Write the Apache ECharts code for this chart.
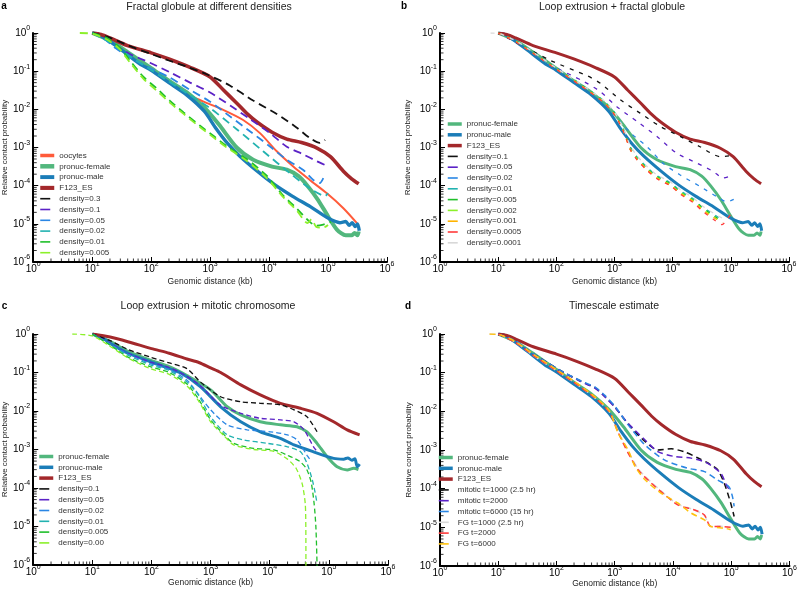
<!DOCTYPE html>
<html><head><meta charset="utf-8">
<script src="https://cdn.jsdelivr.net/npm/echarts/dist/echarts.min.js"></script>
<style>html,body{margin:0;padding:0;background:#fff}#c{width:800px;height:589px}</style>
</head><body><div id="c"></div>
<script>
// ---- Data: pairs of [log10(kb), log10(P)] ----
// Experimental curves (panels a, b, d)
const F123_ES = [[1.0,0],[1.15,-0.04],[1.3,-0.13],[1.6,-0.33],[2.0,-0.52],[2.3,-0.68],[2.66,-0.9],[3.0,-1.15],[3.23,-1.5],[3.44,-1.82],[3.63,-2.12],[3.8,-2.34],[4.05,-2.6],[4.3,-2.78],[4.55,-2.87],[4.82,-3.02],[5.04,-3.24],[5.26,-3.62],[5.4,-3.82],[5.52,-3.95]];
const pronucMale = [[1.0,0],[1.1,-0.03],[1.3,-0.22],[1.5,-0.45],[1.8,-0.8],[2.0,-0.98],[2.3,-1.3],[2.6,-1.62],[2.9,-2.05],[3.1,-2.5],[3.3,-2.9],[3.5,-3.22],[3.8,-3.62],[4.1,-3.98],[4.4,-4.28],[4.7,-4.55],[5.0,-4.85],[5.2,-4.97],[5.3,-4.94],[5.36,-5.04],[5.41,-4.97],[5.46,-5.07],[5.5,-5.0],[5.53,-5.18]];
const pronucFemale = [[1.0,0],[1.3,-0.2],[1.6,-0.5],[2.0,-0.92],[2.3,-1.25],[2.6,-1.55],[2.9,-1.95],[3.15,-2.4],[3.45,-3.0],[3.73,-3.32],[4.05,-3.5],[4.3,-3.58],[4.5,-3.75],[4.65,-4.0],[4.82,-4.35],[5.0,-4.8],[5.15,-5.15],[5.3,-5.3],[5.4,-5.3],[5.45,-5.24],[5.5,-5.3],[5.52,-5.2]];
const oocytes = [[1.0,0],[1.3,-0.2],[1.6,-0.5],[2.0,-0.93],[2.3,-1.27],[2.49,-1.48],[2.7,-1.67],[2.89,-1.8],[3.23,-2.02],[3.56,-2.28],[3.85,-2.63],[4.13,-3.1],[4.41,-3.5],[4.69,-3.85],[4.98,-4.2],[5.26,-4.59],[5.49,-4.98]];
// Panel a: fractal globule densities
const a_d03 = [[1.0,0],[1.3,-0.12],[1.6,-0.32],[2.0,-0.55],[2.3,-0.72],[2.6,-0.88],[2.94,-1.08],[3.34,-1.38],[3.73,-1.77],[4.13,-2.12],[4.47,-2.48],[4.69,-2.75],[4.86,-2.88],[4.95,-2.8]];
const a_d01 = [[1.0,0],[1.2,-0.12],[1.4,-0.32],[1.64,-0.55],[1.98,-0.78],[2.32,-1.03],[2.66,-1.3],[3.0,-1.56],[3.34,-1.9],[3.68,-2.26],[4.02,-2.63],[4.3,-2.98],[4.58,-3.18],[4.81,-3.36],[4.98,-3.48]];
const a_d005 = [[1.0,0],[1.2,-0.15],[1.4,-0.4],[1.64,-0.64],[1.98,-0.92],[2.32,-1.17],[2.66,-1.49],[3.0,-1.8],[3.34,-2.19],[3.68,-2.58],[4.02,-2.98],[4.3,-3.32],[4.58,-3.59],[4.75,-3.85],[4.86,-3.93],[4.92,-3.8]];
const a_d002 = [[1.0,0],[1.3,-0.25],[1.6,-0.57],[2.0,-0.97],[2.3,-1.27],[2.6,-1.57],[3.0,-1.97],[3.45,-2.52],[3.9,-3.1],[4.36,-3.68],[4.69,-4.07],[4.95,-4.27],[5.0,-4.2]];
const a_d001 = [[1.0,0],[1.25,-0.13],[1.47,-0.39],[1.64,-0.72],[1.87,-1.15],[2.1,-1.46],[2.32,-1.78],[2.55,-2.08],[2.83,-2.43],[3.06,-2.7],[3.28,-2.96],[3.62,-3.3],[3.96,-3.74],[4.24,-4.26],[4.47,-4.6],[4.69,-4.95],[4.8,-5.05],[4.92,-5.02],[5.05,-4.95]];
const a_d0005 = [[0.79,0],[1.0,-0.02],[1.25,-0.17],[1.47,-0.43],[1.64,-0.77],[1.87,-1.2],[2.1,-1.52],[2.32,-1.83],[2.55,-2.12],[2.83,-2.47],[3.06,-2.74],[3.28,-3.0],[3.62,-3.35],[3.96,-3.8],[4.24,-4.3],[4.47,-4.65],[4.65,-4.98],[4.72,-4.88],[4.8,-5.08],[4.92,-5.1],[5.0,-5.03]];
// Panel b: loop extrusion + fractal globule
const b_d01 = [[1.0,0],[1.33,-0.26],[1.9,-0.72],[2.53,-1.12],[2.76,-1.32],[3.1,-1.75],[3.44,-2.1],[3.79,-2.45],[4.13,-2.71],[4.47,-2.98],[4.82,-3.24],[5.05,-3.2]];
const b_d005 = [[1.0,0],[1.5,-0.4],[1.9,-0.83],[2.47,-1.27],[2.76,-1.54],[3.04,-1.93],[3.39,-2.32],[3.73,-2.71],[4.07,-3.15],[4.42,-3.41],[4.7,-3.63],[4.87,-3.8],[5.0,-3.75]];
const b_d002 = [[1.0,0],[1.3,-0.22],[1.6,-0.52],[2.0,-0.95],[2.4,-1.36],[2.81,-1.8],[3.1,-2.33],[3.3,-2.65],[3.56,-2.98],[3.84,-3.42],[4.13,-3.72],[4.47,-4.02],[4.76,-4.29],[4.93,-4.42],[5.05,-4.36]];
const b_d001 = [[1.0,0],[1.3,-0.2],[1.6,-0.5],[2.0,-0.92],[2.4,-1.32],[2.8,-1.76],[3.0,-2.08],[3.15,-2.5],[3.27,-2.98],[3.39,-3.25],[3.56,-3.52],[3.73,-3.74],[3.96,-3.92],[4.13,-4.13],[4.36,-4.35],[4.5,-4.55],[4.7,-4.74],[4.85,-4.9]];
const b_d0005 = [[1.0,0],[1.3,-0.21],[1.6,-0.51],[2.0,-0.93],[2.4,-1.33],[2.8,-1.77],[3.0,-2.1],[3.15,-2.52],[3.27,-3.0],[3.39,-3.28],[3.56,-3.55],[3.73,-3.77],[3.96,-3.95],[4.13,-4.16],[4.36,-4.38],[4.5,-4.57],[4.7,-4.78],[4.83,-4.92]];
const b_d0002 = [[1.0,0],[1.3,-0.22],[1.6,-0.52],[2.0,-0.94],[2.4,-1.34],[2.8,-1.78],[3.0,-2.12],[3.15,-2.55],[3.27,-3.03],[3.39,-3.3],[3.56,-3.57],[3.73,-3.79],[3.96,-3.97],[4.13,-4.18],[4.36,-4.4],[4.5,-4.6],[4.7,-4.82],[4.84,-4.95]];
const b_d0001 = [[1.0,0],[1.3,-0.22],[1.6,-0.53],[2.0,-0.94],[2.4,-1.35],[2.8,-1.8],[3.0,-2.13],[3.15,-2.55],[3.27,-3.05],[3.39,-3.32],[3.56,-3.58],[3.73,-3.8],[3.96,-3.99],[4.13,-4.2],[4.36,-4.42],[4.5,-4.62],[4.7,-4.83],[4.86,-4.97]];
const b_d00005 = [[1.0,0],[1.3,-0.23],[1.6,-0.53],[2.0,-0.95],[2.4,-1.36],[2.8,-1.8],[3.0,-2.14],[3.15,-2.56],[3.27,-3.05],[3.39,-3.33],[3.56,-3.6],[3.73,-3.82],[3.96,-4.0],[4.13,-4.22],[4.36,-4.45],[4.5,-4.65],[4.7,-4.88],[4.85,-5.02],[4.95,-4.85],[5.0,-4.75]];
const b_d00001 = [[0.87,0],[1.0,-0.01],[1.3,-0.2],[1.6,-0.5],[2.0,-0.92],[2.4,-1.32],[2.8,-1.75],[3.0,-2.08],[3.15,-2.48],[3.27,-2.95],[3.39,-3.22],[3.56,-3.5],[3.73,-3.72],[3.96,-3.9],[4.13,-4.1],[4.36,-4.33],[4.5,-4.52],[4.7,-4.72],[4.85,-4.85]];
// Panel c: loop extrusion + mitotic chromosome (different normalisation)
const c_F123 = [[1.0,0],[1.3,-0.08],[1.6,-0.2],[2.0,-0.38],[2.3,-0.5],[2.6,-0.65],[2.8,-0.74],[3.0,-0.88],[3.17,-1.0],[3.51,-1.32],[3.84,-1.58],[4.18,-1.8],[4.52,-1.93],[4.8,-2.06],[5.08,-2.28],[5.31,-2.49],[5.52,-2.62]];
const c_male = [[1.0,0],[1.15,-0.08],[1.31,-0.25],[1.6,-0.5],[1.98,-0.72],[2.16,-0.82],[2.5,-1.02],[2.83,-1.37],[3.17,-1.89],[3.51,-2.28],[3.84,-2.54],[4.18,-2.71],[4.41,-2.88],[4.74,-3.06],[5.08,-3.23],[5.25,-3.25],[5.32,-3.22],[5.39,-3.28],[5.44,-3.24],[5.48,-3.45],[5.52,-3.38]];
const c_female = [[1.0,0],[1.31,-0.2],[1.6,-0.45],[1.98,-0.68],[2.3,-0.85],[2.6,-1.08],[3.0,-1.45],[3.28,-1.89],[3.51,-2.1],[3.84,-2.28],[4.18,-2.36],[4.46,-2.41],[4.63,-2.54],[4.8,-2.84],[4.97,-3.19],[5.14,-3.45],[5.31,-3.53],[5.42,-3.49],[5.5,-3.52]];
const c_d01 = [[1.0,0],[1.31,-0.18],[1.6,-0.4],[1.98,-0.6],[2.3,-0.75],[2.6,-0.9],[2.83,-1.25],[3.17,-1.63],[3.51,-1.76],[3.84,-1.8],[4.18,-1.84],[4.41,-1.97],[4.63,-2.15],[4.8,-2.54]];
const c_d005 = [[1.0,0],[1.31,-0.25],[1.6,-0.5],[1.98,-0.73],[2.3,-0.87],[2.6,-1.1],[2.83,-1.35],[3.17,-1.85],[3.51,-2.06],[3.84,-2.19],[4.18,-2.23],[4.41,-2.28],[4.58,-2.49],[4.74,-2.93],[4.8,-3.05]];
const c_d002 = [[1.0,0],[1.31,-0.27],[1.6,-0.52],[1.98,-0.77],[2.3,-0.92],[2.6,-1.2],[2.72,-1.42],[3.0,-1.97],[3.28,-2.36],[3.62,-2.49],[4.01,-2.54],[4.3,-2.62],[4.46,-2.75],[4.63,-3.15],[4.7,-3.3]];
const c_d001 = [[1.0,0],[1.31,-0.28],[1.6,-0.55],[1.98,-0.8],[2.3,-0.95],[2.6,-1.25],[2.8,-1.6],[3.0,-2.15],[3.28,-2.62],[3.56,-2.75],[3.96,-2.84],[4.3,-2.93],[4.52,-3.06],[4.63,-3.36],[4.72,-3.79],[4.77,-4.14],[4.8,-4.4]];
const c_d0005 = [[1.0,0],[1.31,-0.3],[1.6,-0.6],[1.98,-0.85],[2.3,-1.0],[2.6,-1.3],[2.8,-1.7],[3.0,-2.23],[3.23,-2.62],[3.39,-2.84],[3.73,-2.97],[4.07,-3.01],[4.3,-3.15],[4.5,-3.3],[4.62,-3.5],[4.7,-3.85],[4.75,-4.4],[4.78,-5.0],[4.8,-6.0],[4.81,-7.0]];
const c_d000 = [[0.66,0],[1.0,-0.05],[1.31,-0.33],[1.6,-0.62],[1.98,-0.9],[2.3,-1.05],[2.6,-1.35],[2.8,-1.75],[3.0,-2.28],[3.23,-2.65],[3.39,-2.88],[3.73,-3.0],[4.07,-3.05],[4.3,-3.25],[4.45,-3.5],[4.55,-3.9],[4.6,-4.4],[4.61,-5.0],[4.612,-6.0],[4.614,-7.0]];
// Panel d: timescale estimate
const d_mit1000 = [[1.0,0],[1.3,-0.2],[1.59,-0.5],[2.05,-0.93],[2.39,-1.2],[2.67,-1.4],[2.84,-1.63],[3.01,-1.9],[3.23,-2.33],[3.52,-2.78],[3.74,-3.0],[3.97,-2.97],[4.2,-3.05],[4.42,-3.2],[4.59,-3.33],[4.76,-3.5],[4.88,-3.86],[4.99,-4.37],[5.05,-4.72]];
const d_mit2000 = [[1.0,0],[1.3,-0.2],[1.59,-0.5],[2.05,-0.94],[2.39,-1.21],[2.67,-1.41],[2.84,-1.64],[3.01,-1.91],[3.23,-2.31],[3.52,-2.74],[3.74,-3.04],[4.03,-3.17],[4.31,-3.21],[4.59,-3.34],[4.82,-3.6],[4.93,-3.95],[4.97,-4.02]];
const d_mit6000 = [[1.0,0],[1.3,-0.18],[1.59,-0.5],[2.05,-0.93],[2.39,-1.19],[2.67,-1.38],[2.84,-1.6],[3.01,-1.88],[3.23,-2.35],[3.52,-2.87],[3.86,-3.26],[4.25,-3.47],[4.54,-3.56],[4.76,-3.77],[4.96,-3.95],[5.02,-4.2],[5.05,-4.46]];
const d_fg1000 = [[0.85,0],[1.0,-0.01],[1.3,-0.22],[1.6,-0.55],[2.0,-0.95],[2.3,-1.25],[2.6,-1.58],[2.9,-2.0],[3.06,-2.52],[3.23,-3.03],[3.4,-3.48],[3.63,-3.84],[3.86,-4.14],[4.08,-4.4],[4.37,-4.55],[4.54,-4.7],[4.65,-4.98],[4.82,-4.97],[4.99,-5.02]];
const d_fg2000 = [[1.0,0],[1.3,-0.22],[1.6,-0.55],[2.0,-0.95],[2.3,-1.25],[2.6,-1.58],[2.9,-2.0],[3.06,-2.55],[3.23,-3.08],[3.4,-3.51],[3.63,-3.86],[3.86,-4.16],[4.08,-4.42],[4.37,-4.55],[4.54,-4.68],[4.65,-4.98],[4.82,-4.98],[4.99,-5.0]];
const d_fg6000 = [[0.85,0],[1.0,-0.01],[1.3,-0.2],[1.6,-0.52],[2.0,-0.92],[2.3,-1.22],[2.6,-1.55],[2.9,-1.97],[3.06,-2.57],[3.23,-3.0],[3.35,-3.43],[3.52,-3.77],[3.8,-4.12],[4.08,-4.37],[4.31,-4.63],[4.54,-4.81],[4.65,-4.98],[4.88,-5.02],[4.99,-5.06]];
// Axis tick values
const minorX = [2,3,4,5,6,7,8,9,20,30,40,50,60,70,80,90,200,300,400,500,600,700,800,900,2000,3000,4000,5000,6000,7000,8000,9000,20000,30000,40000,50000,60000,70000,80000,90000,200000,300000,400000,500000,600000,700000,800000,900000];
const minorY = [2e-6,3e-6,4e-6,5e-6,6e-6,7e-6,8e-6,9e-6,2e-5,3e-5,4e-5,5e-5,6e-5,7e-5,8e-5,9e-5,2e-4,3e-4,4e-4,5e-4,6e-4,7e-4,8e-4,9e-4,2e-3,3e-3,4e-3,5e-3,6e-3,7e-3,8e-3,9e-3,0.02,0.03,0.04,0.05,0.06,0.07,0.08,0.09,0.2,0.3,0.4,0.5,0.6,0.7,0.8,0.9];
const titles = ['Fractal globule at different densities','Loop extrusion + fractal globule','Loop extrusion + mitotic chromosome','Timescale estimate'];
const letters = ['a','b','c','d'];

// ---- Styling ----
const FONT = '"Liberation Sans", Arial, Helvetica, sans-serif';
const C = {red:'#a3282b', green:'#52b77d', blue:'#1b7db8', ooc:'#ff5b3a', black:'#111111', purple:'#5b22c6', lblue:'#2a86e4', teal:'#22b2b0', dgreen:'#1fbf2a', lime:'#8cf02a', orange:'#ffb300', red2:'#ff3b3b', gray:'#d8d8d8', yellow:'#ffc20e'};
const grids = [
  {left:33, top:33, width:354, height:229},
  {left:440, top:33, width:349, height:229},
  {left:32, top:334, width:356, height:231},
  {left:440, top:334, width:353, height:232}
];
const yNameGap = [24, 28, 23, 27];
const xNameGap = [15, 15, 13.5, 13];
const dashA = [8,5], dashB = [4,6], dashC = [5,3], dashD = [6,4];

const panels = [
  [ ['oocytes', oocytes, C.ooc, 2, 'solid'],
    ['pronuc-female', pronucFemale, C.green, 4, 'solid'],
    ['pronuc-male', pronucMale, C.blue, 3.4, 'solid'],
    ['F123_ES', F123_ES, C.red, 3.6, 'solid'],
    ['density=0.3', a_d03, C.black, 1.8, dashA],
    ['density=0.1', a_d01, C.purple, 1.8, dashA],
    ['density=0.05', a_d005, C.lblue, 1.8, dashA],
    ['density=0.02', a_d002, C.teal, 1.8, dashA],
    ['density=0.01', a_d001, C.dgreen, 1.8, dashA],
    ['density=0.005', a_d0005, C.lime, 1.8, dashA] ],
  [ ['pronuc-female', pronucFemale, C.green, 3, 'solid'],
    ['pronuc-male', pronucMale, C.blue, 3, 'solid'],
    ['F123_ES', F123_ES, C.red, 3, 'solid'],
    ['density=0.1', b_d01, C.black, 1.3, dashB],
    ['density=0.05', b_d005, C.purple, 1.3, dashB],
    ['density=0.02', b_d002, C.lblue, 1.3, dashB],
    ['density=0.01', b_d001, C.teal, 1.3, dashB],
    ['density=0.005', b_d0005, C.dgreen, 1.3, dashB],
    ['density=0.002', b_d0002, C.lime, 1.3, dashB],
    ['density=0.001', b_d0001, C.orange, 1.3, dashB],
    ['density=0.0005', b_d00005, C.red2, 1.3, dashB],
    ['density=0.0001', b_d00001, C.gray, 1.3, dashB] ],
  [ ['pronuc-female', c_female, C.green, 3, 'solid'],
    ['pronuc-male', c_male, C.blue, 3, 'solid'],
    ['F123_ES', c_F123, C.red, 3, 'solid'],
    ['density=0.1', c_d01, C.black, 1.3, dashC],
    ['density=0.05', c_d005, C.purple, 1.3, dashC],
    ['density=0.02', c_d002, C.lblue, 1.3, dashC],
    ['density=0.01', c_d001, C.teal, 1.3, dashC],
    ['density=0.005', c_d0005, C.dgreen, 1.3, dashC],
    ['density=0.00', c_d000, C.lime, 1.3, dashC] ],
  [ ['pronuc-female', pronucFemale, C.green, 3, 'solid'],
    ['pronuc-male', pronucMale, C.blue, 3, 'solid'],
    ['F123_ES', F123_ES, C.red, 3, 'solid'],
    ['mitotic t=1000 (2.5 hr)', d_mit1000, C.black, 1.5, dashD],
    ['mitotic t=2000', d_mit2000, C.purple, 1.5, dashD],
    ['mitotic t=6000 (15 hr)', d_mit6000, C.lblue, 1.5, dashD],
    ['FG t=1000 (2.5 hr)', d_fg1000, C.gray, 1.5, dashD],
    ['FG t=2000', d_fg2000, C.red2, 1.5, dashD],
    ['FG t=6000', d_fg6000, C.yellow, 1.5, dashD] ]
];
const legendPos = [ {left:38, top:151.5}, {left:446, top:120}, {left:37.5, top:452.5}, {left:437, top:453.5} ];

const toPts = arr => arr.map(p => [Math.pow(10, p[0]), Math.pow(10, p[1])]);
const supFmt = v => '10{s|' + Math.round(Math.log10(v)) + '}';
const supRich = { s: { fontSize: 7, fontFamily: FONT, color: '#000', padding: [0,0,9,0] } };
const HIDE = { color:'rgba(0,0,0,0)', borderColor:'rgba(0,0,0,0)', borderWidth:0, opacity:0 };

const xAxes = [], yAxes = [], series = [], legends = [], graphics = [];
grids.forEach((g, i) => {
  xAxes.push({ type:'log', logBase:10, gridIndex:i, min:1, max:1e6, splitNumber:6,
    axisLine:{ lineStyle:{ color:'#000', width:2 } },
    axisTick:{ inside:true, length:5, lineStyle:{ color:'#000', width:1 } },
    splitLine:{ show:false },
    axisLabel:{ margin:-1, color:'#000', fontFamily:FONT, fontSize:10, formatter:supFmt, rich:supRich },
    name:'Genomic distance (kb)', nameLocation:'middle', nameGap:xNameGap[i],
    nameTextStyle:{ fontFamily:FONT, fontSize:8.5, color:'#222' } });
  yAxes.push({ type:'log', logBase:10, gridIndex:i, min:1e-6, max:1, splitNumber:6,
    axisLine:{ lineStyle:{ color:'#000', width:2 } },
    axisTick:{ inside:true, length:5, lineStyle:{ color:'#000', width:1 } },
    splitLine:{ show:false },
    axisLabel:{ margin:3, color:'#000', fontFamily:FONT, fontSize:10, formatter:supFmt, rich:supRich },
    name:'Relative contact probability', nameLocation:'middle', nameGap:yNameGap[i], nameRotate:90,
    nameTextStyle:{ fontFamily:FONT, fontSize:8, color:'#222' } });
  const legendItems = [];
  panels[i].forEach(s => {
    const nm = s[0] + '#' + i;
    const solid = s[4] === 'solid';
    legendItems.push({ name:nm,
      lineStyle:{ width: solid ? Math.max(3.5, s[3]+0.5) : 1.6, type: solid ? 'solid' : [10, 20], color:s[2], opacity:1 },
      itemStyle:HIDE });
    series.push({ type:'line', name:nm, xAxisIndex:i, yAxisIndex:i, data:toPts(s[1]),
      symbol:'none', showSymbol:false, smooth:0.25, clip:true, animation:false,
      lineStyle:{ color:s[2], width:s[3], type:s[4], cap:'butt' }, itemStyle:{ color:s[2] } });
  });
  legends.push({ orient:'vertical', left:legendPos[i].left, top:legendPos[i].top, padding:0,
    itemWidth:14, itemHeight:8, itemGap:2.8, data:legendItems, selectedMode:false,
    formatter: n => n.split('#')[0],
    itemStyle:HIDE,
    textStyle:{ fontFamily:FONT, fontSize:8, color:'#333', lineHeight:8 } });
  // minor ticks positioned through the axes
  series.push({ type:'custom', xAxisIndex:i, yAxisIndex:i, silent:true, clip:false, animation:false,
    data: minorX.map(v => [v, 1e-6]),
    renderItem: (p, api) => { const c = api.coord([api.value(0), api.value(1)]);
      return { type:'line', shape:{ x1:c[0], y1:c[1], x2:c[0], y2:c[1]-3.5 }, style:{ stroke:'#000', lineWidth:0.8 } }; } });
  series.push({ type:'custom', xAxisIndex:i, yAxisIndex:i, silent:true, clip:false, animation:false,
    data: minorY.map(v => [1, v]),
    renderItem: (p, api) => { const c = api.coord([api.value(0), api.value(1)]);
      return { type:'line', shape:{ x1:c[0], y1:c[1], x2:c[0]+3.5, y2:c[1] }, style:{ stroke:'#000', lineWidth:0.8 } }; } });
});

const titlePos = [[209,7],[612,7],[208,306],[614,306]];
const letterPos = [[4,6],[404,6],[4.5,306],[408,306]];
titles.forEach((t, i) => {
  graphics.push({ type:'text', x:titlePos[i][0], y:titlePos[i][1], silent:true,
    style:{ text:t, align:'center', verticalAlign:'middle', textAlign:'center', textVerticalAlign:'middle', fontFamily:FONT, fontSize:10.5, fill:'#222' } });
  graphics.push({ type:'text', x:letterPos[i][0], y:letterPos[i][1], silent:true,
    style:{ text:letters[i], align:'center', verticalAlign:'middle', textAlign:'center', textVerticalAlign:'middle', fontFamily:FONT, fontSize:10, fontWeight:'bold', fill:'#000' } });
});

const chart = echarts.init(document.getElementById('c'), null, { renderer:'canvas' });
chart.setOption({ animation:false, backgroundColor:'#fff', grid:grids, xAxis:xAxes, yAxis:yAxes, legend:legends, series:series, graphic:graphics });
</script></body></html>
